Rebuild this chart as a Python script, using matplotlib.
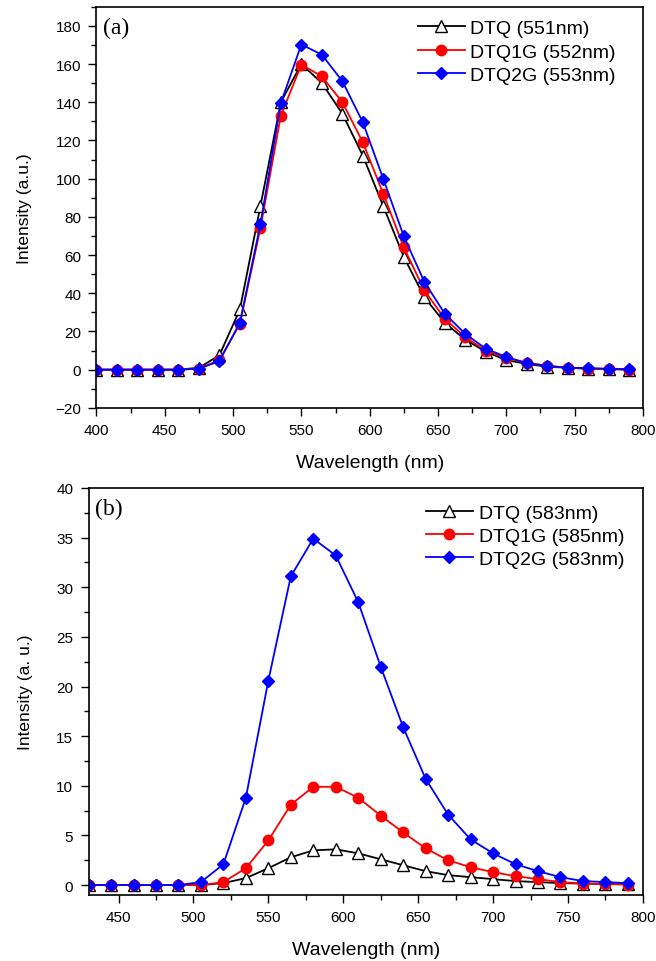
import numpy as np
from matplotlib import pyplot as plt
from matplotlib.ticker import MultipleLocator

plt.rcParams['font.family'] = ['Liberation Sans', 'DejaVu Sans']

# panel (a)
wl_a = [400, 415, 430, 445, 460, 475, 490, 505, 520, 535, 550, 565, 580, 595,
        610, 625, 640, 655, 670, 685, 700, 715, 730, 745, 760, 775, 790]
dtq_a = [0, 0, 0, 0, 0, 1, 7.5, 31.5, 85.5, 140, 160, 150, 134, 112,
         85.5, 59, 38, 24.5, 15.7, 9.4, 5, 3, 1.5, 1, 0.5, 0.3, 0]
dtq1g_a = [0, 0, 0, 0, 0, 0.5, 5, 24, 74, 133, 159.7, 153.5, 140, 119,
           92, 64, 41.5, 26.6, 17, 10, 6, 3.5, 2, 1, 0.5, 0.3, 0]
dtq2g_a = [0, 0, 0, 0, 0, 0.5, 4.5, 24.5, 76, 139.6, 170.2, 164.9, 151, 129.5,
           99.8, 69.8, 46, 29.3, 18.7, 11, 6.6, 3.5, 2, 1, 0.8, 0.5, 0.3]
labels_a = ['DTQ (551nm)', 'DTQ1G (552nm)', 'DTQ2G (553nm)']

# panel (b)
wl_b = [430, 445, 460, 475, 490, 505, 520, 535, 550, 565, 580, 595, 610,
        625, 640, 655, 670, 685, 700, 715, 730, 745, 760, 775, 790]
dtq_b = [0, 0, 0, 0, 0, 0, 0.2, 0.7, 1.7, 2.8, 3.5, 3.6, 3.2,
         2.6, 2.0, 1.4, 1.0, 0.8, 0.6, 0.4, 0.3, 0.2, 0.15, 0.1, 0.1]
dtq1g_b = [0, 0, 0, 0, 0, 0, 0.3, 1.7, 4.5, 8.1, 9.9, 9.9, 8.8,
           7.0, 5.3, 3.7, 2.5, 1.8, 1.3, 0.9, 0.6, 0.3, 0.15, 0.1, 0.05]
dtq2g_b = [0, 0, 0, 0, 0, 0.3, 2.1, 8.8, 20.6, 31.1, 34.9, 33.2, 28.5,
           22.0, 15.9, 10.7, 7.1, 4.6, 3.2, 2.1, 1.4, 0.8, 0.4, 0.3, 0.2]
labels_b = ['DTQ (583nm)', 'DTQ1G (585nm)', 'DTQ2G (583nm)']

styles = [
    dict(color='black', marker='^', markerfacecolor='white', markeredgecolor='black', markersize=8),
    dict(color='red', marker='o', markerfacecolor='red', markeredgecolor='red', markersize=7.5),
    dict(color='blue', marker='D', markerfacecolor='blue', markeredgecolor='blue', markersize=6.5),
]

fig = plt.figure(figsize=(6.56, 9.62), dpi=100)
ax1 = fig.add_axes([0.147, 0.575, 0.833, 0.417])
ax2 = fig.add_axes([0.135, 0.0686, 0.845, 0.4231])


def draw(ax, x, series, labels, tag, ylabel, leg_anchor):
    for y, lab, st in zip(series, labels, styles):
        ax.plot(x, y, lw=1.3, label=lab, **st)
    ax.set_xlabel('Wavelength (nm)', fontsize=14, labelpad=12)
    ax.set_ylabel(ylabel, fontsize=12.5, labelpad=17)
    ax.text(0.012, 0.975, tag, transform=ax.transAxes, ha='left', va='top',
            fontsize=17, family='Liberation Serif')
    ax.legend(loc='upper right', bbox_to_anchor=leg_anchor, frameon=False,
              fontsize=14, handlelength=2.4, handletextpad=0.3,
              labelspacing=0.29, borderaxespad=0, borderpad=0.4)
    ax.tick_params(which='both', direction='out', top=False, right=False,
                   labelsize=11, pad=5)
    ax.tick_params(which='major', length=6, width=1)
    ax.tick_params(which='minor', length=3.5, width=1)
    ax.xaxis.set_major_locator(MultipleLocator(50))
    ax.xaxis.set_minor_locator(MultipleLocator(25))
    for sp in ax.spines.values():
        sp.set_linewidth(1.2)


draw(ax1, wl_a, [dtq_a, dtq1g_a, dtq2g_a], labels_a, '(a)', 'Intensity (a.u.)',
     (0.965, 0.987))
ax1.set_xlim(400, 800)
ax1.set_ylim(-20, 190)
ax1.yaxis.set_major_locator(MultipleLocator(20))
ax1.yaxis.set_minor_locator(MultipleLocator(10))

draw(ax2, wl_b, [dtq_b, dtq1g_b, dtq2g_b], labels_b, '(b)', 'Intensity (a. u.)',
     (0.98, 0.98))
ax2.set_xlim(430, 800)
ax2.set_ylim(-1, 40)
ax2.yaxis.set_major_locator(MultipleLocator(5))
ax2.yaxis.set_minor_locator(MultipleLocator(2.5))

fig.savefig('out.png', dpi=100)
